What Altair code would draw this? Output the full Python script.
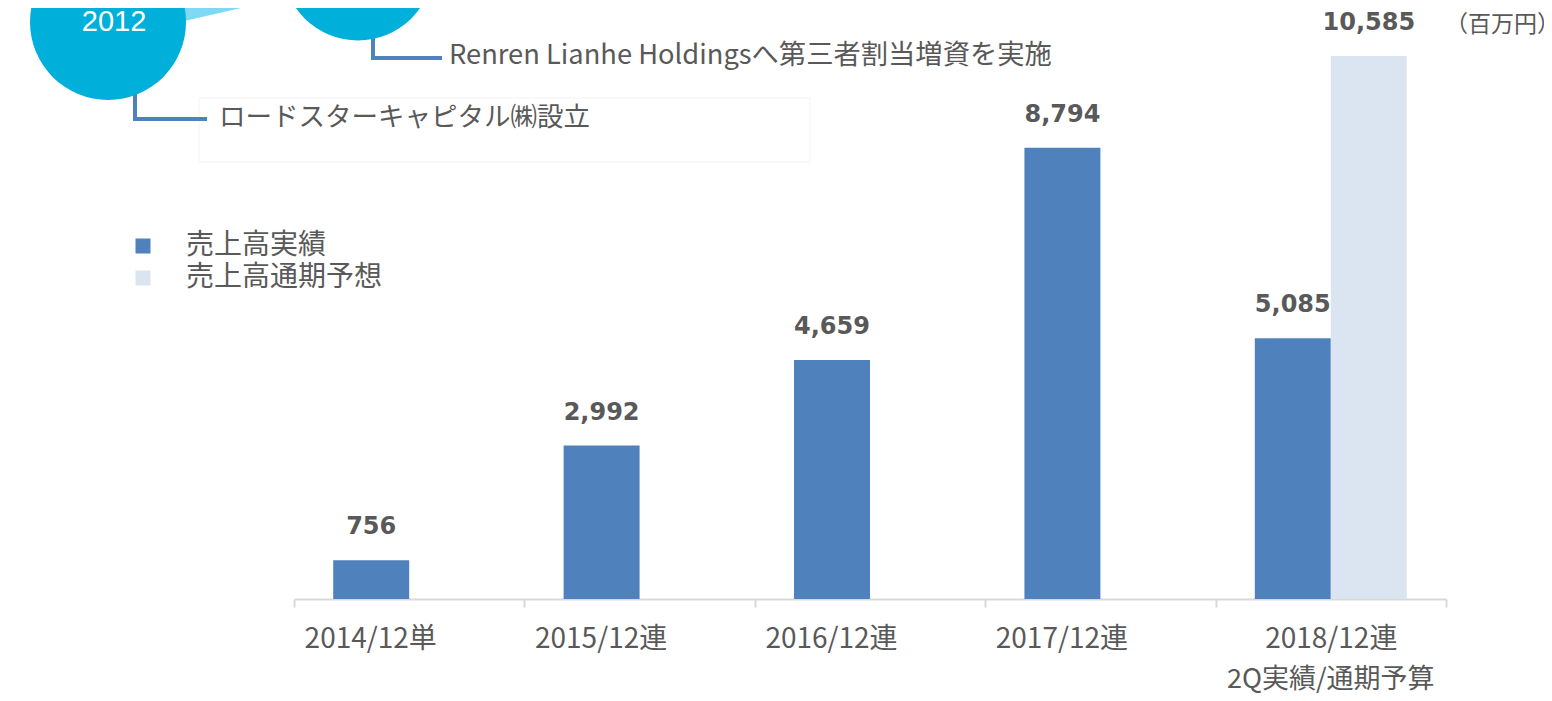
import altair as alt
import pandas as pd

categories = ["2014/12単", "2015/12連", "2016/12連", "2017/12連", "2018/12連"]
actual = [756, 2992, 4659, 8794, 5085]
forecast_category = "2018/12連"
forecast_value = 10585
series_names = ["売上高実績", "売上高通期予想"]
series_colors = ["#4f81bd", "#dbe5f1"]
sub_label = "2Q実績/通期予算"
unit_label = "（百万円）"
events = ["ロードスターキャピタル㈱設立", "Renren Lianhe Holdingsへ第三者割当増資を実施"]
year_label = "2012"

rows = [{"category": c, "series": series_names[0], "value": v} for c, v in zip(categories, actual)]
rows.append({"category": forecast_category, "series": series_names[1], "value": forecast_value})
df = pd.DataFrame(rows)

JP = "Noto Sans CJK JP"
GRAY = "#595959"

x_enc = alt.X(
    "category:N",
    sort=categories,
    scale=alt.Scale(domain=categories, range=[286, 1438], paddingInner=0, paddingOuter=0),
    axis=alt.Axis(
        title=None, labelAngle=0, labelFont=JP, labelFontSize=28, labelColor=GRAY,
        domainColor="#d9d9d9", domainWidth=2, tickColor="#d9d9d9", tickWidth=2,
        tickSize=8, tickBand="extent", labelPadding=18,
        labelOffset={"condition": {"test": "datum.value === '2018/12連'", "value": 0}, "value": -39},
    ),
)
xoff = alt.XOffset(
    "series:N", sort=series_names,
    scale=alt.Scale(domain=series_names, paddingInner=0, paddingOuter=0.516),
)
y_enc = alt.Y("value:Q", scale=alt.Scale(domain=[0, 11520]), axis=None)

base = alt.Chart(df)

bars = base.mark_bar().encode(
    x=x_enc, xOffset=xoff, y=y_enc,
    color=alt.Color(
        "series:N", sort=series_names,
        scale=alt.Scale(domain=series_names, range=series_colors),
        legend=alt.Legend(
            title=None, orient="none", legendX=121, legendY=224, padding=0,
            symbolType="square", symbolSize=225, symbolStrokeWidth=0,
            labelFont=JP, labelFontSize=28, labelColor=GRAY, labelOffset=29,
            labelLimit=500, rowPadding=4,
        ),
    ),
)

labels = base.mark_text(
    font="DejaVu Sans", fontWeight="bold", fontSize=24, color=GRAY,
    baseline="alphabetic", dy=-26,
).encode(x=x_enc, xOffset=xoff, y=y_enc, text=alt.Text("value:Q", format=","))

sub = alt.Chart(pd.DataFrame({"category": [forecast_category], "t": [sub_label]})).mark_text(
    font=JP, fontSize=27, color=GRAY, baseline="alphabetic",
).encode(x=x_enc, y=alt.value(680), text="t:N")

unit = alt.Chart(pd.DataFrame({"t": [unit_label]})).mark_text(
    font=JP, fontSize=23, color=GRAY, align="left", baseline="middle",
).encode(x=alt.value(1437), y=alt.value(17), text="t:N")

band = alt.Chart(pd.DataFrame({"a": [0]})).mark_rule(color="#7fd8f4", strokeWidth=28).encode(
    x=alt.value(100), x2=alt.value(350), y=alt.value(16), y2=alt.value(-41))

circle_left = alt.Chart(pd.DataFrame({"a": [0]})).mark_point(
    shape="circle", filled=True, opacity=1, color="#00b0da", strokeWidth=0
).encode(x=alt.value(100), y=alt.value(14), size=alt.value(24336))
circle_right = alt.Chart(pd.DataFrame({"a": [0]})).mark_point(
    shape="circle", filled=True, opacity=1, color="#00b0da", strokeWidth=0
).encode(x=alt.value(350), y=alt.value(-43), size=alt.value(22800))

year = alt.Chart(pd.DataFrame({"t": [year_label]})).mark_text(
    font="Liberation Sans", fontSize=29, color="white", align="center", baseline="middle",
).encode(x=alt.value(106), y=alt.value(14), text="t:N")

box = alt.Chart(pd.DataFrame({"a": [0]})).mark_rect(
    fill="white", stroke="#f7f7f7", strokeWidth=1.5
).encode(x=alt.value(191), x2=alt.value(802), y=alt.value(90), y2=alt.value(154))

def conn(x0, y0, x1, y1):
    c = "#4f81bd"
    v = alt.Chart(pd.DataFrame({"a": [0]})).mark_rule(color=c, strokeWidth=4, strokeCap="square").encode(
        x=alt.value(x0), y=alt.value(y0), y2=alt.value(y1))
    h = alt.Chart(pd.DataFrame({"a": [0]})).mark_rule(color=c, strokeWidth=4, strokeCap="square").encode(
        x=alt.value(x0), x2=alt.value(x1), y=alt.value(y1))
    return v + h

conn_left = conn(127, 84, 197, 111)
conn_right = conn(365, 27, 432, 50)

ev1 = alt.Chart(pd.DataFrame({"t": [events[0]]})).mark_text(
    font=JP, fontSize=26.5, color=GRAY, align="left", baseline="middle",
).encode(x=alt.value(211), y=alt.value(110), text="t:N")
ev2 = alt.Chart(pd.DataFrame({"t": [events[1]]})).mark_text(
    font=JP, fontSize=27.3, color=GRAY, align="left", baseline="middle",
).encode(x=alt.value(441), y=alt.value(48), text="t:N")

chart = alt.layer(
    box, band, conn_left, conn_right, circle_left, circle_right, year, ev1, ev2,
    bars, labels, sub, unit,
).properties(
    width=1536, height=591,
    autosize=alt.AutoSizeParams(type="none"),
    padding={"left": 0, "right": 0, "top": 0, "bottom": 94},
).configure_view(stroke=None)

chart.save("out.html", embed_options={"renderer": "svg", "actions": False})
